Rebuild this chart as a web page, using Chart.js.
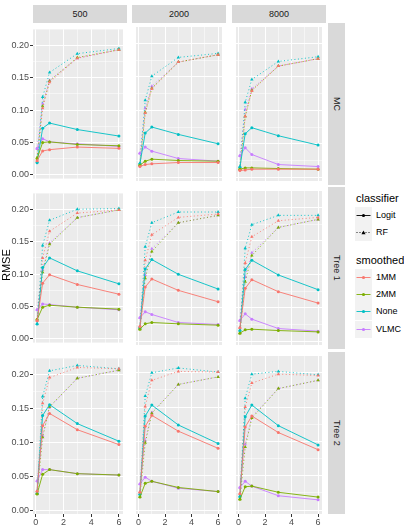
<!DOCTYPE html>
<html>
<head>
<meta charset="utf-8">
<script src="https://cdn.jsdelivr.net/npm/chart.js@4"></script>
<style>
  body { margin: 0; background: #fff; }
  #page { position: relative; width: 404px; height: 525px; overflow: hidden; font-family: "Liberation Sans", Arial, sans-serif; }
  .strip { position: absolute; background: #D9D9D9; color: #1A1A1A; font-size: 9px; display: flex; align-items: center; justify-content: center; }
  .strip.right { writing-mode: vertical-rl; }
  .lg { position: absolute; color: #000; white-space: nowrap; }
  .lg-title { font-size: 11px; line-height: 11px; }
  .lg-label { font-size: 9px; line-height: 17px; }
  canvas { position: absolute; }
</style>
</head>
<body>
<div id="page"></div>
<script>
// 数据
const xValues = [0.1, 0.5, 1, 3, 6];
const sampleSizes = ['500', '2000', '8000'];
const models = ['MC', 'Tree 1', 'Tree 2'];
const classifiers = ['Logit', 'RF'];
const smoothers = ['1MM', '2MM', 'None', 'VLMC'];

// 刻度
const yMajorTicks = [0, 0.05, 0.1, 0.15, 0.2];
const yMinorTicks = [0.025, 0.075, 0.125, 0.175];
const xMajorTicks = [0, 2, 4, 6];
const xMinorTicks = [1, 3, 5];

// 每个面板: 行 = smoothed (1MM, 2MM, None, VLMC)
const logit_MC_500 = [
  [0.022, 0.037, 0.039, 0.043, 0.041],
  [0.025, 0.050, 0.051, 0.047, 0.045],
  [0.019, 0.072, 0.080, 0.070, 0.060],
  [0.041, 0.056, 0.051, 0.048, 0.044]
];
const rf_MC_500 = [
  [0.022, 0.103, 0.143, 0.180, 0.193],
  [0.027, 0.106, 0.145, 0.181, 0.193],
  [0.020, 0.120, 0.158, 0.187, 0.195],
  [0.040, 0.110, 0.146, 0.180, 0.193]
];
const logit_MC_2000 = [
  [0.016, 0.019, 0.020, 0.022, 0.022],
  [0.018, 0.024, 0.027, 0.025, 0.024],
  [0.020, 0.066, 0.075, 0.064, 0.050],
  [0.036, 0.045, 0.039, 0.028, 0.024]
];
const rf_MC_2000 = [
  [0.017, 0.096, 0.132, 0.172, 0.183],
  [0.019, 0.097, 0.133, 0.172, 0.183],
  [0.021, 0.115, 0.151, 0.179, 0.185],
  [0.036, 0.103, 0.136, 0.172, 0.183]
];
const logit_MC_8000 = [
  [0.010, 0.011, 0.012, 0.012, 0.012],
  [0.012, 0.014, 0.014, 0.013, 0.012],
  [0.015, 0.065, 0.074, 0.062, 0.048],
  [0.032, 0.044, 0.034, 0.019, 0.016]
];
const rf_MC_8000 = [
  [0.011, 0.091, 0.129, 0.166, 0.177],
  [0.013, 0.091, 0.130, 0.166, 0.177],
  [0.016, 0.112, 0.146, 0.173, 0.180],
  [0.032, 0.101, 0.132, 0.166, 0.177]
];
const logit_T1_500 = [
  [0.028, 0.086, 0.099, 0.084, 0.069],
  [0.030, 0.049, 0.052, 0.049, 0.046],
  [0.023, 0.110, 0.125, 0.105, 0.085],
  [0.045, 0.054, 0.053, 0.049, 0.045]
];
const rf_T1_500 = [
  [0.028, 0.125, 0.166, 0.194, 0.199],
  [0.030, 0.103, 0.146, 0.187, 0.199],
  [0.023, 0.144, 0.183, 0.200, 0.201],
  [0.045, 0.107, 0.148, 0.187, 0.199]
];
const logit_T1_2000 = [
  [0.022, 0.081, 0.093, 0.076, 0.059],
  [0.018, 0.026, 0.028, 0.026, 0.024],
  [0.020, 0.108, 0.122, 0.100, 0.078],
  [0.035, 0.044, 0.040, 0.028, 0.025]
];
const rf_T1_2000 = [
  [0.022, 0.121, 0.159, 0.185, 0.190],
  [0.018, 0.094, 0.134, 0.177, 0.188],
  [0.020, 0.141, 0.177, 0.193, 0.193],
  [0.035, 0.099, 0.138, 0.177, 0.188]
];
const logit_T1_8000 = [
  [0.020, 0.079, 0.092, 0.074, 0.057],
  [0.012, 0.017, 0.018, 0.016, 0.014],
  [0.016, 0.107, 0.121, 0.099, 0.077],
  [0.031, 0.041, 0.033, 0.019, 0.015]
];
const rf_T1_8000 = [
  [0.020, 0.117, 0.156, 0.180, 0.185],
  [0.012, 0.089, 0.128, 0.170, 0.182],
  [0.016, 0.139, 0.174, 0.188, 0.188],
  [0.031, 0.096, 0.132, 0.170, 0.182]
];
const logit_T2_500 = [
  [0.028, 0.125, 0.143, 0.119, 0.097],
  [0.024, 0.053, 0.060, 0.054, 0.052],
  [0.025, 0.140, 0.156, 0.128, 0.102],
  [0.043, 0.060, 0.060, 0.054, 0.052]
];
const rf_T2_500 = [
  [0.028, 0.158, 0.196, 0.211, 0.209],
  [0.024, 0.108, 0.153, 0.195, 0.207],
  [0.025, 0.168, 0.206, 0.214, 0.209],
  [0.043, 0.110, 0.152, 0.195, 0.207]
];
const logit_T2_2000 = [
  [0.026, 0.122, 0.138, 0.115, 0.090],
  [0.019, 0.039, 0.042, 0.033, 0.027],
  [0.023, 0.137, 0.153, 0.124, 0.097],
  [0.038, 0.048, 0.042, 0.032, 0.027]
];
const rf_T2_2000 = [
  [0.026, 0.151, 0.189, 0.202, 0.201],
  [0.019, 0.098, 0.141, 0.183, 0.194],
  [0.023, 0.166, 0.200, 0.207, 0.201],
  [0.038, 0.101, 0.142, 0.183, 0.194]
];
const logit_T2_8000 = [
  [0.024, 0.121, 0.137, 0.113, 0.088],
  [0.016, 0.034, 0.035, 0.026, 0.019],
  [0.020, 0.136, 0.153, 0.123, 0.095],
  [0.033, 0.042, 0.035, 0.021, 0.015]
];
const rf_T2_8000 = [
  [0.024, 0.150, 0.185, 0.198, 0.196],
  [0.016, 0.092, 0.134, 0.177, 0.189],
  [0.020, 0.163, 0.198, 0.202, 0.197],
  [0.033, 0.096, 0.136, 0.177, 0.189]
];

// 面板网格 [行][列] -> [Logit, RF]
const panels = [
  [[logit_MC_500, rf_MC_500], [logit_MC_2000, rf_MC_2000], [logit_MC_8000, rf_MC_8000]],
  [[logit_T1_500, rf_T1_500], [logit_T1_2000, rf_T1_2000], [logit_T1_8000, rf_T1_8000]],
  [[logit_T2_500, rf_T2_500], [logit_T2_2000, rf_T2_2000], [logit_T2_8000, rf_T2_8000]]
];

const colors = ['#F8766D', '#7CAE00', '#00BFC4', '#C77CFF'];

// 布局
const colX = [33, 132, 232];
const rowY = [23, 187, 352];
const panelW = 94;
const panelH = 162;
const yAxisW = 33;
const xAxisH = 11;
const yMin = -0.0056, yMax = 0.2244;
const xMin = -0.195, xMax = 6.295;
const fontFamily = '"Liberation Sans", Arial, sans-serif';

const page = document.getElementById('page');

// 面板灰色背景
const panelBg = {
  id: 'panelBg',
  beforeDraw(chart) {
    const { ctx, chartArea: a } = chart;
    ctx.save();
    ctx.fillStyle = '#EBEBEB';
    ctx.fillRect(a.left, a.top, a.right - a.left, a.bottom - a.top);
    ctx.restore();
  }
};

function gridOpts(majors, showTicks) {
  return {
    drawTicks: showTicks,
    tickLength: 3,
    tickWidth: 1,
    color: c => '#FFFFFF',
    lineWidth: c => majors.includes(c.tick.value) ? 1 : 0.5,
    tickColor: c => majors.includes(c.tick.value) ? '#333333' : 'rgba(0,0,0,0)'
  };
}

function makeScales(showY, showX) {
  const yAll = yMajorTicks.concat(yMinorTicks);
  const xAll = xMajorTicks.concat(xMinorTicks);
  return {
    x: {
      type: 'linear',
      min: xMin,
      max: xMax,
      border: { display: false },
      afterBuildTicks: s => { s.ticks = xAll.map(v => ({ value: v })); },
      afterFit: s => { s.height = showX ? xAxisH : 0; },
      grid: gridOpts(xMajorTicks, showX),
      ticks: {
        display: showX,
        autoSkip: false,
        maxRotation: 0,
        padding: 0,
        color: '#4D4D4D',
        font: { family: fontFamily, size: 9 },
        callback: v => xMajorTicks.includes(v) ? String(v) : ''
      }
    },
    y: {
      type: 'linear',
      min: yMin,
      max: yMax,
      border: { display: false },
      afterBuildTicks: s => { s.ticks = yAll.map(v => ({ value: v })); },
      afterFit: s => { s.width = showY ? yAxisW : 0; },
      grid: gridOpts(yMajorTicks, showY),
      ticks: {
        display: showY,
        autoSkip: false,
        padding: 1,
        color: '#4D4D4D',
        font: { family: fontFamily, size: 9 },
        callback: v => yMajorTicks.includes(v) ? v.toFixed(2) : ''
      }
    }
  };
}

function makeDatasets(pair) {
  const ds = [];
  pair.forEach((series, ci) => {
    const isRF = classifiers[ci] === 'RF';
    series.forEach((vals, si) => {
      ds.push({
        label: classifiers[ci] + ' ' + smoothers[si],
        data: vals.map((v, i) => ({ x: xValues[i], y: v })),
        borderColor: colors[si],
        backgroundColor: colors[si],
        borderWidth: 0.9,
        borderDash: isRF ? [1, 2.5] : [],
        pointStyle: isRF ? 'triangle' : 'circle',
        pointRadius: isRF ? 2 : 1.5,
        pointBorderWidth: 0,
        tension: 0
      });
    });
  });
  return ds;
}

panels.forEach((row, r) => {
  row.forEach((pair, c) => {
    const showY = c === 0;
    const showX = r === 2;
    const canvas = document.createElement('canvas');
    const w = panelW + (showY ? yAxisW : 0);
    const h = panelH + (showX ? xAxisH : 0);
    canvas.width = w;
    canvas.height = h;
    canvas.style.left = (colX[c] - (showY ? yAxisW : 0)) + 'px';
    canvas.style.top = rowY[r] + 'px';
    canvas.style.width = w + 'px';
    canvas.style.height = h + 'px';
    page.appendChild(canvas);

    new Chart(canvas.getContext('2d'), {
      type: 'line',
      data: { datasets: makeDatasets(pair) },
      options: {
        responsive: false,
        animation: false,
        devicePixelRatio: 1,
        layout: { padding: 0 },
        plugins: { legend: { display: false }, tooltip: { enabled: false } },
        scales: makeScales(showY, showX)
      },
      plugins: [panelBg]
    });
  });
});

// 分面标签
function addDiv(cls, text, style) {
  const d = document.createElement('div');
  d.className = cls;
  d.textContent = text;
  Object.assign(d.style, style);
  page.appendChild(d);
  return d;
}

sampleSizes.forEach((s, c) => {
  addDiv('strip', s, { left: colX[c] + 'px', top: '5px', width: panelW + 'px', height: '18px' });
});
models.forEach((m, r) => {
  addDiv('strip right', m, { left: '328px', top: rowY[r] + 'px', width: '17px', height: panelH + 'px' });
});

// Y 轴标题
addDiv('lg', 'RMSE', {
  left: '0px', top: '245px', width: '11px', height: '40px', fontSize: '11px',
  writingMode: 'vertical-rl', transform: 'rotate(180deg)', textAlign: 'center', color: '#000'
});

// 图例
function keySvg(color, dashed, tri) {
  const dash = dashed ? ' stroke-dasharray="1 2"' : '';
  const mark = tri
    ? '<polygon points="8.5,6.5 10.6,10.2 6.4,10.2" fill="' + color + '"/>'
    : '<circle cx="8.5" cy="8.5" r="1.6" fill="' + color + '"/>';
  return '<svg width="17" height="17" xmlns="http://www.w3.org/2000/svg">' +
    '<rect width="17" height="17" fill="#F2F2F2"/>' +
    '<line x1="1.5" y1="8.5" x2="15.5" y2="8.5" stroke="' + color + '" stroke-width="0.9"' + dash + '/>' +
    mark + '</svg>';
}

function addKey(top, svg, label) {
  const k = document.createElement('div');
  k.className = 'lg';
  Object.assign(k.style, { left: '355px', top: top + 'px', width: '17px', height: '17px' });
  k.innerHTML = svg;
  page.appendChild(k);
  addDiv('lg lg-label', label, { left: '376px', top: top + 'px' });
}

addDiv('lg lg-title', 'classifier', { left: '356px', top: '193px' });
addKey(207, keySvg('#000000', false, false), classifiers[0]);
addKey(224, keySvg('#000000', true, true), classifiers[1]);

addDiv('lg lg-title', 'smoothed', { left: '356px', top: '255px' });
smoothers.forEach((s, i) => {
  addKey(269 + i * 17.2, keySvg(colors[i], false, false), s);
});
</script>
</body>
</html>
